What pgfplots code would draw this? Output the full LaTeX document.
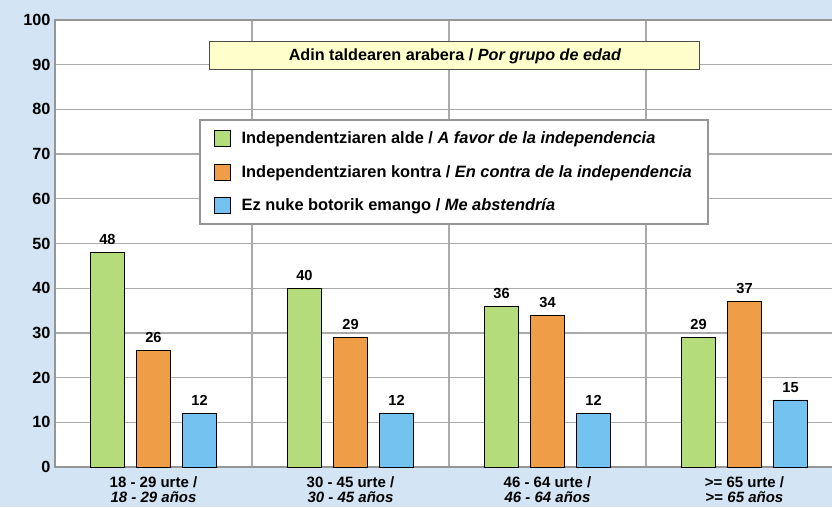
\documentclass[border=0pt]{standalone}
\usepackage{pgfplots}
\pgfplotsset{compat=1.18}
\usepackage{fontspec}
\setmainfont{Liberation Sans}
\definecolor{bg}{RGB}{211,229,244}
\definecolor{cgreen}{RGB}{181,220,122}
\definecolor{corange}{RGB}{240,157,72}
\definecolor{cblue}{RGB}{116,194,240}
\definecolor{gridc}{RGB}{170,170,170}
\definecolor{axc}{RGB}{150,150,150}
\definecolor{titlebg}{RGB}{255,255,204}
\begin{document}
\begin{tikzpicture}
\fill[bg] (0pt,0pt) rectangle (832pt,507pt);
\begin{axis}[
  at={(55pt,40pt)}, anchor=south west,
  scale only axis, width=788pt, height=447pt,
  xmin=0, xmax=4, ymin=0, ymax=100,
  ytick={0,10,...,100},
  xtick={0.5,1.5,2.5,3.5},
  xticklabels={{18 - 29 urte /\\\textit{18 - 29 años}},{30 - 45 urte /\\\textit{30 - 45 años}},{46 - 64 urte /\\\textit{46 - 64 años}},{>= 65 urte /\\>= \textit{65 años}}},
  minor xtick={1,2,3},
  xminorgrids=true, ymajorgrids=true,
  major grid style={draw=gridc, line width=1.3pt},
  minor grid style={draw=gridc, line width=1.3pt},
  axis line style={draw=axc, line width=2.6pt},
  major tick length=0pt, minor tick length=0pt,
  tick style={draw=none},
  /pgf/number format/assume math mode=true,
  yticklabel style={font=\fontsize{16.2}{18}\selectfont\bfseries, xshift=-1pt},
  xticklabel style={font=\fontsize{15}{15.5}\selectfont\bfseries, align=center, yshift=-6pt},
  axis background/.style={fill=white},
  bar width=34pt,
  ybar,
  nodes near coords,
  every node near coord/.append style={font=\fontsize{14.6}{15}\selectfont\bfseries, yshift=4pt},
  legend image code/.code={\draw[#1] (0pt,-8pt) rectangle (16pt,8pt);},
  legend cell align=left,
  legend style={at={(0.1827,0.7785)}, anchor=north west, draw=axc, line width=2pt, fill=white,
    font=\fontsize{16.4}{19}\selectfont\bfseries, row sep=16pt, inner xsep=14pt, inner ysep=10pt,
    /tikz/every odd column/.append style={column sep=9pt}},
]
\addplot[fill=cgreen, draw=black, line width=0.7pt, bar shift=-46pt] coordinates {(0.5,48) (1.5,40) (2.5,36) (3.5,29)};
\addplot[fill=corange, draw=black, line width=0.7pt, bar shift=0pt] coordinates {(0.5,26) (1.5,29) (2.5,34) (3.5,37)};
\addplot[fill=cblue, draw=black, line width=0.7pt, bar shift=46pt] coordinates {(0.5,12) (1.5,12) (2.5,12) (3.5,15)};
\legend{Independentziaren alde / \textit{A favor de la independencia},
        Independentziaren kontra / \textit{En contra de la independencia},
        Ez nuke botorik emango / \textit{Me abstendría}}
\node[draw=black!70, line width=1pt, fill=titlebg, minimum width=490pt, minimum height=28pt,
      font=\fontsize{16.2}{18}\selectfont\bfseries] at (rel axis cs:0.5076,0.9195)
      {Adin taldearen arabera / \textit{Por grupo de edad}};
\end{axis}
\pgfresetboundingbox
\path[use as bounding box] (0pt,0pt) rectangle (832pt,507pt);
\end{tikzpicture}
\end{document}
